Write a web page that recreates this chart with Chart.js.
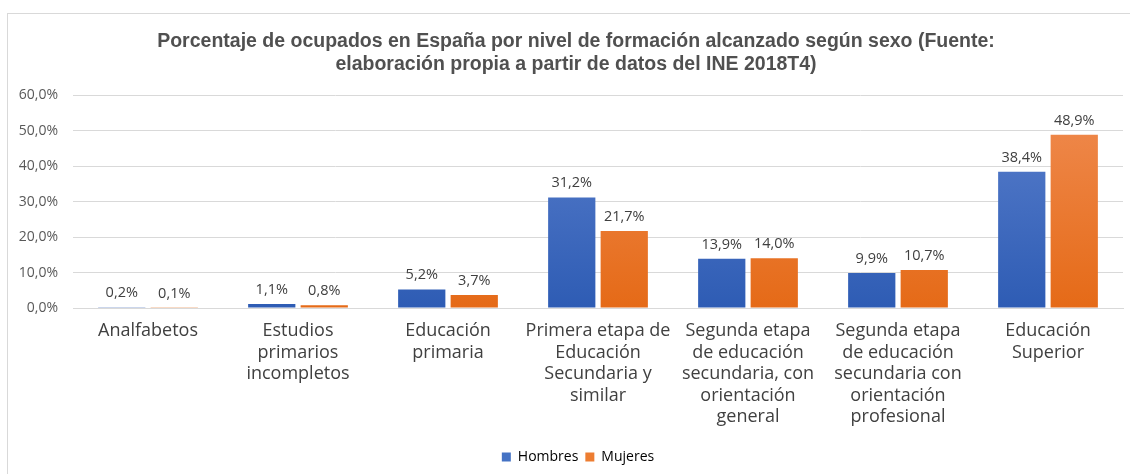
<!DOCTYPE html>
<html><head><meta charset="utf-8">
<script src="https://cdn.jsdelivr.net/npm/chart.js@4/dist/chart.umd.min.js"></script>
<style>
html,body{margin:0;padding:0;background:#fff;width:1130px;height:474px;overflow:hidden}
#wrap{position:absolute;left:7px;top:13px;width:1123px;height:461px;border-left:1px solid #d9d9d9;border-top:1px solid #d9d9d9;box-sizing:border-box}
canvas{display:block}
</style></head>
<body>
<div id="wrap"><canvas id="c" width="1122" height="456"></canvas></div>
<script>
const categories = [
  ["Analfabetos"],
  ["Estudios","primarios","incompletos"],
  ["Educación","primaria"],
  ["Primera etapa de","Educación","Secundaria y","similar"],
  ["Segunda etapa","de educación","secundaria, con","orientación","general"],
  ["Segunda etapa","de educación","secundaria con","orientación","profesional"],
  ["Educación","Superior"]
];
const hombres = [0.2, 1.1, 5.2, 31.2, 13.9, 9.9, 38.4];
const mujeres = [0.1, 0.8, 3.7, 21.7, 14.0, 10.7, 48.9];
const yTicks = [0, 10, 20, 30, 40, 50, 60];
const titleLines = ["Porcentaje de ocupados en España por nivel de formación alcanzado según sexo (Fuente:", "elaboración propia a partir de datos del INE 2018T4)"];

const fmt = v => v.toFixed(1).replace('.', ',') + '%';

function grad(ctx, top, bottom) {
  const ch = ctx.chart;
  const a = ch.chartArea;
  if (!a) return bottom;
  const g = ch.ctx.createLinearGradient(0, a.top, 0, a.bottom);
  g.addColorStop(0, top);
  g.addColorStop(1, bottom);
  return g;
}

const labelPlugin = {
  id: 'vals',
  afterLayout(chart) {
    if (chart.titleBlock) chart.titleBlock.left += 20;
    if (chart.legend) {
      chart.legend.left += 24;
      chart.legend.top += 4;
      chart.legend.bottom += 4;
    }
  },
  afterDatasetsDraw(chart) {
    const ctx = chart.ctx;
    ctx.save();
    ctx.font = '14.5px "Open Sans", "Liberation Sans", sans-serif';
    ctx.fillStyle = '#404040';
    ctx.textAlign = 'center';
    ctx.textBaseline = 'bottom';
    chart.data.datasets.forEach((ds, i) => {
      chart.getDatasetMeta(i).data.forEach((bar, j) => {
        ctx.fillText(fmt(ds.data[j]), bar.x, bar.y - 7);
      });
    });
    ctx.restore();
  }
};

new Chart(document.getElementById('c'), {
  type: 'bar',
  data: {
    labels: categories,
    datasets: [
      { label: 'Hombres', data: hombres,
        backgroundColor: c => grad(c, '#5b80cd', '#2e5cb4'),
        categoryPercentage: 0.7, barPercentage: 0.9 },
      { label: 'Mujeres', data: mujeres,
        backgroundColor: c => grad(c, '#f08c52', '#e56a17'),
        categoryPercentage: 0.7, barPercentage: 0.9 }
    ]
  },
  options: {
    responsive: false,
    animation: false,
    layout: { padding: { left: 1, right: 7, top: 0, bottom: 0 } },
    plugins: {
      title: {
        display: true, text: titleLines, color: '#505050',
        font: { family: '"Liberation Sans", Arial, sans-serif', size: 19.5, weight: 'bold', lineHeight: 1.2 },
        padding: { top: 16, bottom: 18.5 }
      },
      legend: {
        position: 'bottom',
        labels: {
          color: '#595959', boxWidth: 9, boxHeight: 9, padding: 7,
          font: { family: '"Open Sans", sans-serif', size: 14 },
          generateLabels: ch => [
            { text: 'Hombres', fillStyle: '#4472c4', strokeStyle: '#4472c4', lineWidth: 0, datasetIndex: 0 },
            { text: 'Mujeres', fillStyle: '#ed7d31', strokeStyle: '#ed7d31', lineWidth: 0, datasetIndex: 1 }
          ]
        }
      },
      tooltip: { enabled: false }
    },
    scales: {
      x: {
        grid: { display: false, drawTicks: false },
        border: { color: '#d9d9d9', width: 1 },
        ticks: {
          color: '#404040', maxRotation: 0, autoSkip: false, padding: 12,
          font: { family: '"Open Sans", sans-serif', size: 18, lineHeight: 1.2 }
        },
        afterFit: s => { s.height = 131; }
      },
      y: {
        min: 0, max: 60,
        afterBuildTicks: s => { s.ticks = yTicks.map(v => ({ value: v })); },
        grid: { color: '#d9d9d9', drawTicks: false },
        border: { display: false },
        ticks: {
          color: '#595959', padding: 15,
          font: { family: '"Open Sans", sans-serif', size: 14 },
          callback: v => fmt(v)
        },
        afterFit: s => { s.width = 64; }
      }
    }
  },
  plugins: [labelPlugin]
});
</script>
</body></html>
